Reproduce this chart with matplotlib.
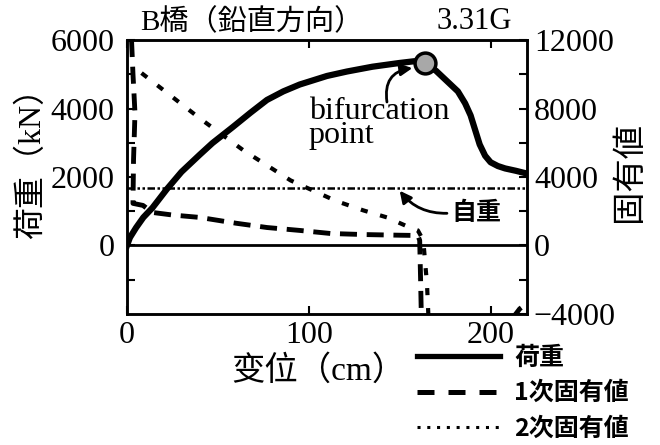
import matplotlib
matplotlib.use("Agg")
import matplotlib.pyplot as plt
from matplotlib.lines import Line2D

SERIF = ['Liberation Serif', 'Noto Sans CJK JP']
CJK = ['Noto Sans CJK JP', 'Liberation Serif']

# load - displacement curve (kN vs cm)
load_x = [0, 1.6, 5, 9, 14, 22, 30, 40, 47, 58, 68, 77, 86, 95, 110, 121, 135, 150, 158, 164,
          170, 176, 182, 186, 189, 191, 194, 197, 200, 204, 208, 214, 220]
load_y = [0, 230, 520, 820, 1100, 1650, 2150, 2650, 2990, 3450, 3880, 4250, 4500, 4700, 4950, 5080,
          5220, 5330, 5380, 5330, 5100, 4800, 4500, 4150, 3800, 3460, 2950, 2620, 2430, 2320, 2250,
          2180, 2100]

# 1st eigenvalue
eig1_x = [2.5, 3.3, 4.4, 3.6, 3.3, 8.8, 14, 25, 40, 60, 77, 95, 112, 130, 150, 160, 161, 161.5, 162]
eig1_y = [12000, 10000, 7730, 5000, 2460, 2340, 1930, 1780, 1640, 1300, 1050, 880, 700, 640, 600, 585, 300, -2000, -4600]
eig1b_x = [211, 216, 221]
eig1b_y = [-4400, -3700, -3300]

# 2nd eigenvalue
eig2_x = [8, 25, 40, 64, 90, 115, 130, 143, 153, 160, 163, 164, 165, 165.5, 166]
eig2_y = [10070, 8670, 7430, 5560, 3800, 2600, 2050, 1640, 1170, 880, 300, -1000, -2200, -3400, -4600]

dead_load = 1670
bif_x, bif_y = 164, 5330

fig = plt.figure(figsize=(6.6, 4.45), dpi=100)
ax = fig.add_axes([0.1924, 0.2944, 0.606, 0.6157])
ax2 = ax.twinx()

ax.set_xlim(0, 220)
ax.set_ylim(-2000, 6000)
ax2.set_ylim(-4000, 12000)

ax.axhline(0, color='k', lw=2)
ax.axhline(dead_load, color='k', lw=1.8, dashes=(3, 1, 1, 1, 1, 1))

ax2.plot(eig2_x, eig2_y, color='k', lw=3, dashes=(1.7, 3.1), solid_capstyle='butt')
ax2.plot(eig1_x, eig1_y, color='k', lw=3.5, dashes=(3.5, 2))
ax2.plot(eig1b_x, eig1b_y, color='k', lw=3.5, dashes=(3.5, 2))
ax.plot(load_x, load_y, color='k', lw=4.5, solid_joinstyle='round', zorder=5)
ax.plot([bif_x], [bif_y], 'o', ms=15, mfc='#a8a8a8', mec='k', mew=2.5, zorder=6)

ax.set_zorder(ax2.get_zorder() + 1)
ax.patch.set_visible(False)

ax.set_xticks([0, 100, 200])
ax.set_yticks([0, 2000, 4000, 6000])
ax.set_yticks([-1000, 1000, 3000, 5000], minor=True)
ax2.set_yticks([-4000, 0, 4000, 8000, 12000])
ax2.set_yticks([-2000, 2000, 6000, 10000], minor=True)

for a in (ax, ax2):
    for s in a.spines.values():
        s.set_linewidth(1.8)
    a.tick_params(which='both', direction='in', length=6, width=1.5, labelsize=23)
    for lab in a.get_xticklabels() + a.get_yticklabels():
        lab.set_family(SERIF)
ax.tick_params(axis='x', top=True, pad=5)
ax.tick_params(axis='y', pad=9)
ax2.tick_params(axis='y', pad=5)

# annotations
ax.text(100, 4350, "bifurcation\npoint", family=SERIF, fontsize=23, ha='left', va='top',
        linespacing=0.8)
ax.annotate('', xy=(157, 5180), xytext=(143, 4190),
            arrowprops=dict(arrowstyle='-|>,head_length=0.7,head_width=0.35', lw=2, color='k',
                            connectionstyle='arc3,rad=-0.5', shrinkA=0, shrinkB=0))
ax.annotate('', xy=(150, 1600), xytext=(176, 940),
            arrowprops=dict(arrowstyle='-|>,head_length=0.7,head_width=0.35', lw=2, color='k',
                            connectionstyle='arc3,rad=-0.25', shrinkA=0, shrinkB=0))
ax.text(192, 960, "自重", family=CJK, fontsize=18, ha='center', va='center', fontweight='bold')

ax.text(0.0325, 1.015, "B橋（鉛直方向）", transform=ax.transAxes, family=SERIF, fontsize=21,
        ha='left', va='bottom')
ax.text(0.9625, 1.015, "3.31G", transform=ax.transAxes, family=SERIF, fontsize=22,
        ha='right', va='bottom')

fig.text(32 / 660, 1 - 155 / 445, "荷重（kN）", family=SERIF, fontsize=23, rotation=90,
         ha='center', va='center')
fig.text(628 / 660, 1 - 172 / 445, "固有値", family=CJK, fontsize=24, rotation=90,
         ha='center', va='center')
fig.text(318 / 660, 1 - 371 / 445, "变位（cm）", family=['Liberation Serif', 'Noto Sans CJK SC'],
         fontsize=24, ha='center', va='center')

handles = [Line2D([], [], color='k', lw=3.8),
           Line2D([], [], color='k', lw=3.6, dashes=(3.4, 2.8)),
           Line2D([], [], color='k', lw=2.2, dashes=(1, 2.2))]
labels = ["荷重", "1次固有値", "2次固有値"]
fig.legend(handles, labels, loc='upper left', bbox_to_anchor=(417 / 660, 1 - 346 / 445),
           frameon=False, borderpad=0, borderaxespad=0, handlelength=3.3, handletextpad=0.6,
           labelspacing=0.45, prop=dict(family=CJK, size=18, weight='bold'))

fig.savefig("out.png", dpi=100)
